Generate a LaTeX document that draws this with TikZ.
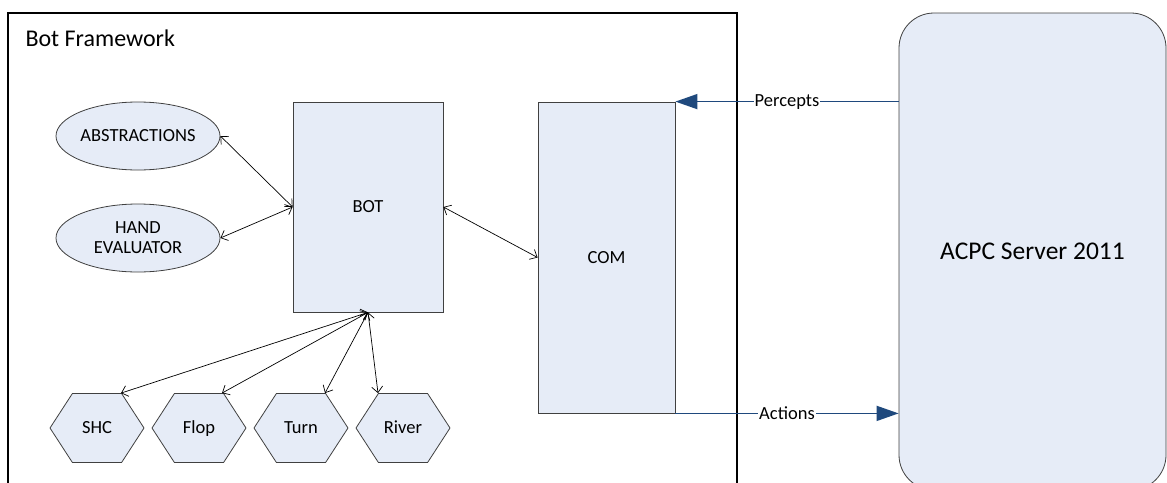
\documentclass[tikz,border=0pt]{standalone}
\usepackage{fontspec}
\setmainfont{Carlito}
\usetikzlibrary{positioning,shapes.geometric,shapes.symbols,arrows.meta}
\definecolor{boxfill}{RGB}{230,236,247}
\definecolor{boxline}{RGB}{64,64,64}
\definecolor{linkblue}{RGB}{31,73,125}

\begin{document}
\begin{tikzpicture}[x=1pt,y=-1pt,on grid,
  font=\fontsize{18.5}{20}\selectfont,
  block/.style={rectangle,draw=boxline,fill=boxfill,line width=0.8pt,inner sep=0pt},
  oval/.style={ellipse,draw=boxline,fill=boxfill,line width=0.8pt,minimum width=164pt,minimum height=68pt,inner sep=0pt,align=center},
  hexa/.style={signal,signal to=west and east,signal pointer angle=114,draw=boxline,fill=boxfill,line width=0.8pt,minimum width=94pt,minimum height=69pt,inner sep=0pt,text height=11pt,text depth=1pt},
  link/.style={{Straight Barb[length=6pt,width=11pt]}-{Straight Barb[length=6pt,width=11pt]},line width=0.7pt},
  msg/.style={-{Triangle[length=22pt,width=15pt]},draw=linkblue,line width=1.6pt}]
  \useasboundingbox (0,0) rectangle (1167,482);
  \clip (0,0) rectangle (1167,482);
  % framework frame
  \draw[line width=1.6pt] (8,495) -- (8,13) -- (737,13) -- (737,495);
  \node[anchor=base west,font=\fontsize{24}{26}\selectfont] (title) at (22,46) {Bot Framework};
  % main blocks
  \node[block,minimum width=150pt,minimum height=210pt] (bot) at (368,207) {BOT};
  \node[block,minimum width=137pt,minimum height=311pt] (com) [below right=50.5pt and 238.5pt of bot] {COM};
  \node[block,rounded corners=35pt,minimum width=267pt,minimum height=477pt,font=\fontsize{25.5}{28}\selectfont] (acpc) [above right=6pt and 426pt of com] {ACPC Server 2011};
  % helpers
  \node[oval] (abs) [above left=71pt and 230pt of bot] {ABSTRACTIONS};
  \node[oval] (hand) [below=102pt of abs] {HAND\\EVALUATOR};
  \node[hexa] (shc) [below left=221pt and 271pt of bot] {SHC};
  \node[hexa] (flop) [right=102pt of shc] {Flop};
  \node[hexa] (turn) [right=102pt of flop] {Turn};
  \node[hexa] (river) [right=102pt of turn] {River};
  % links
  \draw[link] (abs.east) -- (bot.west);
  \draw[link] (hand.east) -- (bot.west);
  \draw[link] (bot.east) -- (com.west);
  \draw[link] (bot.south) -- ([xshift=24pt]shc.north);
  \draw[link] (bot.south) -- ([xshift=23pt]flop.north);
  \draw[link] (bot.south) -- ([xshift=24pt]turn.north);
  \draw[link] (bot.south) -- ([xshift=-25pt]river.north);
  % messages
  \draw[msg] (com.north east -| acpc.west) -- node[fill=white,inner sep=1pt,text=black] {Percepts} (com.north east);
  \draw[msg] (com.south east) -- node[fill=white,inner sep=1pt,text=black] {Actions} (com.south east -| acpc.west);
\end{tikzpicture}
\end{document}
